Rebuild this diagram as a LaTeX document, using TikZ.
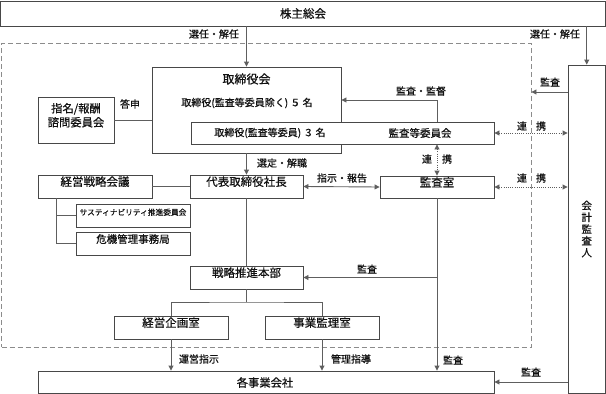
\documentclass[tikz,border=0pt]{standalone}
\usepackage{fontspec}
\setmainfont{Noto Sans CJK JP}[FakeBold=0.6]
\usetikzlibrary{arrows.meta,fit}
\definecolor{boxc}{HTML}{484848}
\definecolor{lnc}{HTML}{5E5E5E}
\definecolor{dashc}{HTML}{8C8C8C}
\definecolor{txt}{HTML}{111111}
\tikzset{
  bx/.style={draw=boxc, line width=0.9pt, inner sep=0pt, text=txt, font=\fontsize{11.5}{13}\selectfont},
  zonebox/.style={draw=dashc, line width=0.9pt, dash pattern=on 5pt off 3pt, inner sep=0pt},
  ln/.style={draw=lnc, line width=0.9pt},
  arr/.style={ln, -{Triangle[length=5pt,width=5pt]}},
  dblarr/.style={ln, {Triangle[length=5pt,width=5pt]}-{Triangle[length=5pt,width=5pt]}},
  dotarr/.style={draw=lnc, line width=0.9pt, dash pattern=on 0.9pt off 1.3pt, {Triangle[length=5pt,width=5pt]}-{Triangle[length=5pt,width=5pt]}},
  lbl/.style={inner sep=0pt, text=txt, font=\fontsize{10}{12}\selectfont},
  sub/.style={inner sep=0pt, text=txt, font=\fontsize{10}{12}\selectfont}
}
\begin{document}
\begin{tikzpicture}[x=1pt,y=-1pt]
\useasboundingbox (0,0) rectangle (606,394);
% dashed zone
\node[zonebox, fit={(1.5,43) (531,347)}] (zone) {};
% boxes
\node[bx, fit={(0.5,1) (605.5,26)}] (sh) {};
\node[txt, inner sep=0pt, font=\fontsize{11.5}{13}\selectfont] at (sh.center) {株主総会};
\node[bx, fit={(152,67) (341,153)}] (tori) {};
\node[sub, font=\fontsize{12}{14}\selectfont] (torit) at (246.5,79) {取締役会};
\node[sub] (torim) at (247,103) {取締役(監査等委員除く) ５ 名};
\node[bx, fill=white, fit={(191,122) (494,144)}] (inner) {};
\node[sub] (innerl) at (270,133) {取締役(監査等委員) ３ 名};
\node[sub, font=\fontsize{10.5}{12}\selectfont] (innerr) at (420,133) {監査等委員会};
\node[bx, fit={(38,97) (114,143)}, align=center, font=\fontsize{11.3}{14}\selectfont] (shimei) {指名/報酬\\諮問委員会};
\node[bx, fit={(568,65) (605.5,393)}] (kaikei) {};
\node[txt, inner sep=0pt, align=center, font=\fontsize{10.5}{11.8}\selectfont] at (586.7,229) {会\\計\\監\\査\\人};
\node[bx, fit={(38,175) (152,198)}] (keiei) {経営戦略会議};
\node[bx, fit={(190,175) (303,198)}] (daihyo) {代表取締役社長};
\node[bx, fit={(380,176) (494,198)}] (kansa) {監査室};
\node[bx, fit={(76,204) (190,227)}, font=\fontsize{7.7}{9}\selectfont] (sus) {サスティナビリティ推進委員会};
\node[bx, fit={(76,232) (190,255)}, font=\fontsize{10.5}{12}\selectfont] (kiki) {危機管理事務局};
\node[bx, fit={(190,266) (303,289)}] (honbu) {戦略推進本部};
\node[bx, fit={(114,316) (228,339)}] (kikaku) {経営企画室};
\node[bx, fit={(265,316) (379,339)}] (kanri) {事業監理室};
\node[bx, fit={(38,371) (494,393)}] (kaku) {};
\node[txt, inner sep=0pt, font=\fontsize{11.3}{13}\selectfont] at (265,382.5) {各事業会社};
% coordinates
\coordinate (kb) at (56,198);
\coordinate (hb) at (246.5,302);
% connectors
\draw[arr] (sh.south -| tori.north) -- (tori.north);
\draw[arr] (sh.south -| kaikei.north) -- (kaikei.north);
\draw[ln] (shimei.east) -- (shimei.east -| tori.west);
\draw[arr] (inner.north -| kansa.north) |- ([yshift=10pt]tori.east);
\draw[dotarr] (inner.south -| kansa.north) -- (kansa.north);
\draw[dotarr] (inner.east) -- (inner.east -| kaikei.west);
\draw[dotarr] (kansa.east) -- (kansa.east -| kaikei.west);
\draw[arr] (kaikei.west |- 0,92) -- (zone.east |- 0,92);
\draw[arr] (tori.south) -- (daihyo.north);
\draw[ln] (keiei.east) -- (daihyo.west);
\draw[dblarr] (daihyo.east) -- (kansa.west);
\draw[ln] (kb) |- (sus.west);
\draw[ln] (kb) |- (kiki.west);
\draw[ln] (daihyo.south) -- (honbu.north);
\draw[arr] (kansa.south |- honbu.east) -- (honbu.east);
\draw[arr] (kansa.south) -- (kansa.south |- kaku.north);
\draw[ln] (honbu.south) -- (hb);
\draw[ln] (kikaku.north) |- (hb) -| (kanri.north);
\draw[arr] (kikaku.south) -- (kikaku.south |- kaku.north);
\draw[arr] (kanri.south) -- (kanri.south |- kaku.north);
\draw[arr] (kaikei.west |- kaku.east) -- (kaku.east);
% labels
\node[lbl] at (214,34) {選任・解任};
\node[lbl] at (555,34) {選任・解任};
\node[lbl] at (550,82) {監査};
\node[lbl] at (421,91) {監査・監督};
\node[lbl] at (130,104) {答申};
\node[lbl] at (522,126) {連};
\node[lbl] at (541,126) {携};
\node[lbl] at (427,159) {連};
\node[lbl] at (447,159) {携};
\node[lbl] at (282,163) {選定・解職};
\node[lbl] at (342,178) {指示・報告};
\node[lbl] at (522,178) {連};
\node[lbl] at (541,178) {携};
\node[lbl] at (367,269) {監査};
\node[lbl] at (199,359) {運営指示};
\node[lbl] at (351,359) {管理指導};
\node[lbl] at (453,360) {監査};
\node[lbl] at (531,372) {監査};
\end{tikzpicture}
\end{document}
